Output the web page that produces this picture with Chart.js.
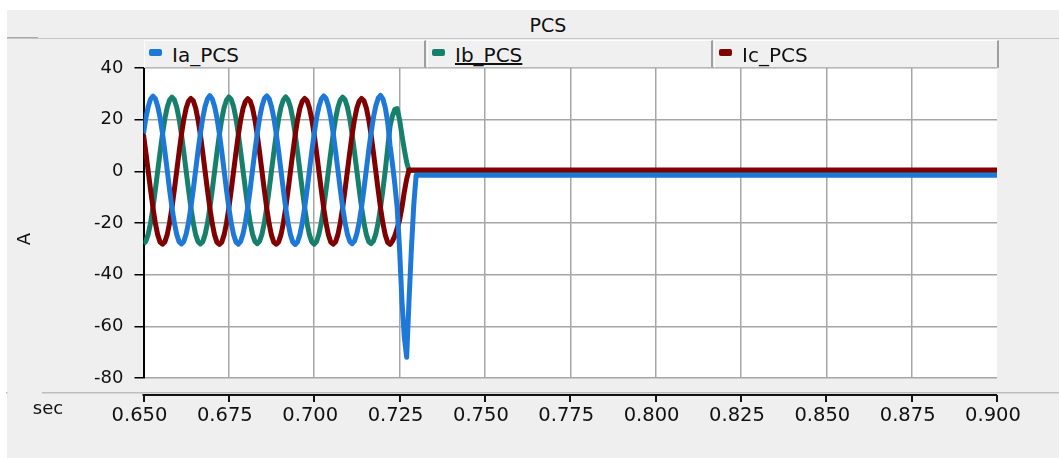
<!DOCTYPE html>
<html>
<head>
<meta charset="utf-8">
<title>PCS</title>
<script src="https://cdn.jsdelivr.net/npm/chart.js@4.4.1/dist/chart.umd.min.js"></script>
<style>
    body { margin: 0; background: #fff; font-family: "DejaVu Sans", Verdana, sans-serif; }
    #frame { position: relative; width: 1059px; height: 458px; overflow: hidden; }
    #panel { position: absolute; left: 7px; top: 10px; right: 0; bottom: 0; background: #efefef; }
    #title { position: absolute; left: 548px; top: 14px; transform: translateX(-50%); font-size: 19px; line-height: 22px; color: #111; }
    .rule { position: absolute; height: 1px; }
    #legend { position: absolute; left: 144px; top: 40px; height: 28px; display: flex; z-index: 2; }
    .item { position: relative; box-sizing: border-box; height: 28px; margin-right: 1px; background: #f0f0f0;
        border-style: solid; border-width: 1px 2px 1px 1px; border-color: #fdfdfd #9e9e9e #b8b8b8 #fdfdfd; }
    .swatch { position: absolute; left: 4px; top: 8px; width: 13px; height: 7px; border-radius: 2px; }
    .name { position: absolute; left: 27px; top: 3px; font-size: 20px; line-height: 23px; color: #111; white-space: nowrap; }
    .name.picked { text-decoration: underline; }
    canvas { position: absolute; left: 0; top: 0; z-index: 1; }
</style>
</head>
<body>
<div id="frame">
    <div id="panel"></div>
    <div id="title">PCS</div>
    <div class="rule" style="left:7px; right:0; top:38px; background:#c6c6c6;"></div>
    <div class="rule" style="left:7px; width:31px; top:37px; background:#a9a9a9;"></div>
    <div id="legend"></div>
    <canvas id="plot" width="1059" height="458" style="width:1059px; height:458px;"></canvas>
</div>
<script>
'use strict';

// recorder samples, 1/1440 s apart, starting at 0.650 s
const t0 = 0.65;
const dt = 1 / 1440;
const tEnd = 0.9;

const seriesNames = ['Ia_PCS', 'Ib_PCS', 'Ic_PCS'];
const seriesColors = ['#1e78d8', '#17806d', '#800000'];
// blue on top, then red, green underneath
const drawOrder = [0, 2, 1];

const iaValues = [
    14.6, 20.6, 25.1, 28.0, 29.1, 28.1, 25.2, 20.7, 14.8, 7.8, 0.4, -7.1, -14.0, -19.9, -24.4, -27.2, -28.1, -27.2, -24.3, -19.8, -13.9, -7.0, 0.5, 7.9,
    14.7, 20.7, 25.2, 28.1, 29.3, 28.0, 25.1, 20.6, 14.6, 7.7, 0.3, -7.2, -14.1, -20.0, -24.5, -27.3, -28.2, -27.1, -24.2, -19.7, -13.8, -6.9, 0.6, 8.0,
    14.8, 20.8, 25.3, 28.2, 29.2, 28.1, 25.0, 20.5, 14.5, 7.6, 0.2, -7.3, -14.2, -20.1, -24.6, -27.4, -28.3, -27.3, -24.4, -19.9, -14.0, -7.1, 0.4, 7.8,
    14.6, 20.6, 25.1, 28.0, 29.2, 28.2, 25.3, 20.8, 14.8, 7.9, 0.5, -7.0, -13.9, -19.8, -24.3, -27.1, -28.0, -27.0, -24.1, -19.6, -13.7, -6.8, 0.7, 8.1,
    14.9, 20.9, 25.4, 28.3, 29.4, 28.0, 24.6, 19.0, 10.0, 3.0, -5.0, -14.0, -30.0, -50.0, -64.0, -72.0, -50.0, -30.0, -13.0, -1.5
];
const ibValues = [
    -28.0, -27.1, -24.3, -19.9, -14.0, -7.1, 0.2, 7.5, 14.3, 20.3, 24.8, 27.6, 28.7, 27.7, 24.9, 20.4, 14.4, 7.4, 0.1, -7.2, -14.1, -20.0, -24.5, -27.2,
    -28.1, -27.2, -24.4, -20.0, -14.1, -7.2, 0.1, 7.4, 14.2, 20.2, 24.7, 27.5, 28.8, 27.8, 25.0, 20.5, 14.5, 7.5, 0.2, -7.1, -14.0, -19.9, -24.4, -27.1,
    -28.0, -27.0, -24.2, -19.8, -13.9, -7.0, 0.3, 7.6, 14.4, 20.4, 24.9, 27.7, 28.8, 27.6, 24.8, 20.3, 14.3, 7.3, 0.0, -7.3, -14.2, -20.1, -24.6, -27.3,
    -28.2, -27.2, -24.3, -19.9, -14.0, -7.1, 0.2, 7.5, 14.3, 20.3, 24.8, 27.6, 28.7, 27.7, 24.9, 20.4, 14.4, 7.4, 0.1, -7.2, -14.1, -20.0, -24.5, -27.2,
    -28.0, -27.0, -24.2, -19.8, -13.9, -7.0, 0.5, 9.0, 17.5, 21.5, 24.0, 24.3, 20.0, 14.0, 8.5, 3.5, 0.3, 0.3, 0.3, 0.3
];
const icValues = [
    14.2, 7.3, 0.0, -7.3, -14.2, -20.1, -24.6, -27.4, -28.2, -27.3, -24.5, -20.0, -14.1, -7.2, 0.1, 7.4, 14.2, 20.1, 24.5, 27.2, 28.2, 27.3, 24.5, 20.0,
    14.1, 7.2, -0.1, -7.4, -14.3, -20.2, -24.7, -27.5, -28.3, -27.4, -24.6, -20.1, -14.2, -7.3, 0.0, 7.3, 14.1, 20.0, 24.4, 27.1, 28.1, 27.2, 24.4, 19.9,
    14.0, 7.1, -0.2, -7.5, -14.4, -20.3, -24.8, -27.5, -28.2, -27.3, -24.5, -20.0, -14.1, -7.2, 0.1, 7.4, 14.2, 20.1, 24.5, 27.2, 28.2, 27.3, 24.5, 20.0,
    14.2, 7.3, 0.0, -7.3, -14.2, -20.1, -24.6, -27.4, -28.2, -27.3, -24.5, -20.0, -14.1, -7.2, 0.1, 7.4, 14.2, 20.1, 24.5, 27.2, 28.2, 27.3, 24.5, 20.0,
    14.1, 7.2, -0.1, -7.4, -14.3, -20.2, -24.7, -27.5, -28.3, -27.0, -25.0, -22.0, -19.0, -14.0, -8.0, -3.0, 0.5, 0.5, 0.5, 0.5
];

const xTicks = { min: 0.65, max: 0.9, step: 0.025 };
const yTicks = { min: -80, max: 40, step: 20 };

// samples, then the last value held until the end of the run
function toPoints(values) {
    const pts = values.map(function (v, i) {
        return { x: t0 + i * dt, y: v };
    });
    pts.push({ x: tEnd, y: values[values.length - 1] });
    return pts;
}

const datasets = [iaValues, ibValues, icValues].map(function (values, i) {
    return {
        label: seriesNames[i],
        data: toPoints(values),
        order: drawOrder[i],
        borderColor: seriesColors[i],
        backgroundColor: seriesColors[i],
        borderWidth: 5,
        borderJoinStyle: 'round',
        pointRadius: 0,
        tension: 0,
        fill: false
    };
});

// legend strip above the plot
(function buildLegend() {
    const box = document.getElementById('legend');
    const widths = [282, 286, 285];
    for (let i = 0; i < seriesNames.length; i++) {
        const item = document.createElement('div');
        item.className = 'item';
        item.style.width = widths[i] + 'px';
        const sw = document.createElement('span');
        sw.className = 'swatch';
        sw.style.background = seriesColors[i];
        const name = document.createElement('span');
        name.className = 'name' + (i === 1 ? ' picked' : '');
        name.textContent = seriesNames[i];
        item.appendChild(sw);
        item.appendChild(name);
        box.appendChild(item);
    }
})();

// white plot field, detached time axis and axis names
const plotFrame = {
    id: 'plotFrame',
    beforeDraw: function (chart) {
        const ctx = chart.ctx;
        const a = chart.chartArea;
        ctx.save();
        ctx.fillStyle = '#ffffff';
        ctx.fillRect(a.left, a.top, a.right - a.left, a.bottom - a.top);
        ctx.restore();
    },
    afterDraw: function (chart) {
        const ctx = chart.ctx;
        const a = chart.chartArea;
        const x = chart.scales.x;
        const axisY = a.bottom + 17;
        ctx.save();
        ctx.fillStyle = '#bdbdbd';
        ctx.fillRect(42, a.bottom + 14, chart.width - 42, 1.5);
        ctx.fillRect(6, a.bottom + 14, 1.5, 1.5);
        ctx.strokeStyle = '#111';
        ctx.lineWidth = 2;
        ctx.beginPath();
        ctx.moveTo(a.left - 1, axisY);
        ctx.lineTo(a.right, axisY);
        x.ticks.forEach(function (t) {
            const px = Math.round(x.getPixelForValue(t.value));
            ctx.moveTo(px, axisY);
            ctx.lineTo(px, axisY + 7);
        });
        ctx.stroke();
        ctx.fillStyle = '#111';
        ctx.font = '18px "DejaVu Sans", Verdana, sans-serif';
        ctx.textAlign = 'center';
        ctx.textBaseline = 'middle';
        ctx.fillText('sec', 48, axisY + 14);
        ctx.translate(25, 239);
        ctx.rotate(-Math.PI / 2);
        ctx.fillText('A', 0, 0);
        ctx.restore();
    }
};

Chart.defaults.font.family = '"DejaVu Sans", Verdana, sans-serif';
Chart.defaults.color = '#111';

new Chart(document.getElementById('plot'), {
    type: 'line',
    data: { datasets: datasets },
    plugins: [plotFrame],
    options: {
        responsive: false,
        devicePixelRatio: 1,
        animation: false,
        layout: { padding: { left: 8, right: 62, top: 68, bottom: 0 } },
        plugins: {
            legend: { display: false },
            title: { display: false },
            tooltip: { enabled: false }
        },
        scales: {
            x: {
                type: 'linear',
                min: xTicks.min,
                max: xTicks.max,
                afterFit: function (scale) { scale.height = 80; },
                border: { display: false },
                grid: {
                    drawTicks: false,
                    lineWidth: 1.5,
                    color: function (c) {
                        return c.index === 10 ? 'rgba(0,0,0,0)' : '#a6a6a6';
                    }
                },
                ticks: {
                    stepSize: xTicks.step,
                    autoSkip: false,
                    maxRotation: 0,
                    padding: 26,
                    labelOffset: -4,
                    font: { size: 19.5 },
                    callback: function (v) { return Number(v).toFixed(3); }
                }
            },
            y: {
                min: yTicks.min,
                max: yTicks.max,
                afterFit: function (scale) { scale.width = 135.5; },
                border: { display: true, color: '#000', width: 2 },
                grid: {
                    color: '#a6a6a6',
                    lineWidth: 1.5,
                    tickColor: '#000',
                    tickWidth: 1.5,
                    tickLength: 9
                },
                ticks: {
                    stepSize: yTicks.step,
                    padding: 11,
                    font: { size: 18 }
                }
            }
        }
    }
});
</script>
</body>
</html>
